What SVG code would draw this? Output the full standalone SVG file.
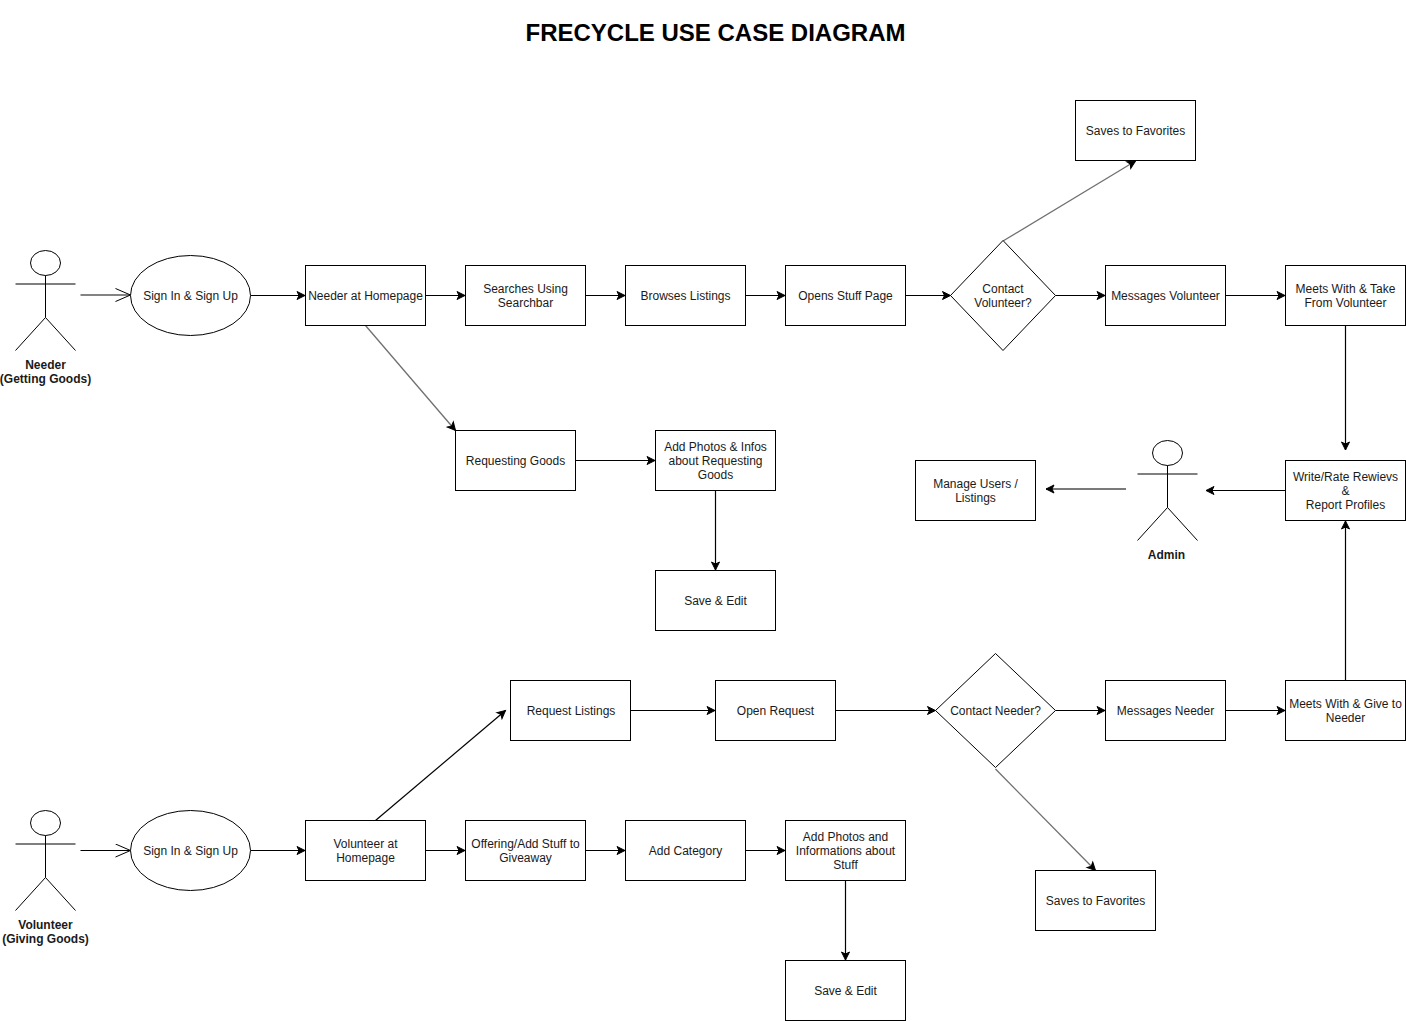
<svg xmlns="http://www.w3.org/2000/svg" width="1406" height="1021" viewBox="0 0 1406 1021">
<style>
.s{fill:#fff;stroke:#000;stroke-width:1}
.a{fill:none;stroke:#000;stroke-width:1}
text{font-family:"Liberation Sans",Arial,sans-serif;font-size:12px;fill:#1a1a1a;text-anchor:middle}
.b{font-weight:bold;fill:#1a1a1a}
.t{font-size:24px;font-weight:bold;fill:#000}
.c{fill:none;stroke:#000;stroke-width:1.2;marker-end:url(#m)}
.g{stroke:#707070;stroke-width:1.3}
.h{stroke:#7a7a7a;stroke-width:2}
.o{fill:none;stroke:#5a5a5a;stroke-width:1.6;marker-end:url(#o)}
.o2{fill:none;stroke:#000;stroke-width:1;marker-end:url(#o)}
</style>
<defs>
<marker id="m" markerUnits="userSpaceOnUse" markerWidth="12" markerHeight="12" refX="8.500" refY="4.500" orient="auto" overflow="visible"><path d="M0.500 0.500L8.500 4.500L0.500 8.500L2.500 4.500Z" fill="#000" stroke="#000"/></marker>
<marker id="o" markerUnits="userSpaceOnUse" markerWidth="20" markerHeight="16" refX="15.500" refY="7" orient="auto"><path d="M0.500 0.500L15.500 7L0.500 13.500" fill="none" stroke="#000"/></marker>
<g id="actor"><ellipse class="s" cx="30" cy="12.500" rx="15" ry="12.500"/><path class="a" d="M30 25V67M0 33.500H60M30 67L0 100M30 67L60 100"/></g>
</defs>
<text class="t" x="715.500" y="41">FRECYCLE USE CASE DIAGRAM</text>
<g id="connectors">
<path class="o" d="M80.500 295H130.500"/>
<path class="c" d="M250.500 295.500H305"/>
<path class="c" d="M425.500 295.500H465"/>
<path class="c" d="M585.500 295.500H625"/>
<path class="c" d="M745.500 295.500H785"/>
<path class="c" d="M905.500 295.500H950.500"/>
<path class="c" d="M1055.500 295.500H1105"/>
<path class="c" d="M1225.500 295.500H1285"/>
<path class="c" d="M1345.500 325.500V450"/>
<path class="c" d="M1285.500 490.500H1206"/>
<path class="c h" d="M1126 489H1046"/>
<path class="c g" d="M1003 241L1135.500 161"/>
<path class="c g" d="M365.500 325.500L455.500 430.500"/>
<path class="c" d="M575.500 460.500H655"/>
<path class="c" d="M715.500 490.500V570"/>
<path class="o2" d="M80.500 850.500H130.500"/>
<path class="c" d="M250.500 850.500H305"/>
<path class="c" d="M425.500 850.500H465"/>
<path class="c" d="M585.500 850.500H625"/>
<path class="c" d="M745.500 850.500H785"/>
<path class="c" d="M845.500 880.500V960"/>
<path class="c" d="M375.500 820.500L505.500 710.500"/>
<path class="c" d="M630.500 710.500H715"/>
<path class="c" d="M835.500 710.500H935.500"/>
<path class="c" d="M1055.500 710.500H1105"/>
<path class="c" d="M1225.500 710.500H1285"/>
<path class="c" d="M1345.500 680.500V521"/>
<path class="c g" d="M995.500 769L1095.500 870.500"/>
</g>
<g id="needer"><use href="#actor" x="15.500" y="250.500"/><text class="b" x="45.500" y="369">Needer</text><text class="b" x="45.500" y="383">(Getting Goods)</text></g>
<g id="signin1"><ellipse class="s" cx="190.500" cy="295.500" rx="60" ry="40"/><text x="190.500" y="300">Sign In &amp; Sign Up</text></g>
<g id="needer-home"><rect class="s" x="305.500" y="265.500" width="120" height="60"/><text x="365.500" y="300">Needer at Homepage</text></g>
<g id="searches"><rect class="s" x="465.500" y="265.500" width="120" height="60"/><text x="525.500" y="293">Searches Using</text><text x="525.500" y="307">Searchbar</text></g>
<g id="browses"><rect class="s" x="625.500" y="265.500" width="120" height="60"/><text x="685.500" y="300">Browses Listings</text></g>
<g id="opens"><rect class="s" x="785.500" y="265.500" width="120" height="60"/><text x="845.500" y="300">Opens Stuff Page</text></g>
<g id="contact-volunteer"><path class="s" d="M1003 240.500L1055.500 295.500L1003 350.500L950.500 295.500Z"/><text x="1003" y="293">Contact</text><text x="1003" y="307">Volunteer?</text></g>
<g id="saves1"><rect class="s" x="1075.500" y="100.500" width="120" height="60"/><text x="1135.500" y="135">Saves to Favorites</text></g>
<g id="messages-volunteer"><rect class="s" x="1105.500" y="265.500" width="120" height="60"/><text x="1165.500" y="300">Messages Volunteer</text></g>
<g id="meets-take"><rect class="s" x="1285.500" y="265.500" width="120" height="60"/><text x="1345.500" y="293">Meets With &amp; Take</text><text x="1345.500" y="307">From Volunteer</text></g>
<g id="write-rate"><rect class="s" x="1285.500" y="460.500" width="120" height="60"/><text x="1345.500" y="481">Write/Rate Rewievs</text><text x="1345.500" y="495">&amp;</text><text x="1345.500" y="509">Report Profiles</text></g>
<g id="admin"><use href="#actor" x="1137.500" y="440.500"/><text class="b" x="1166.500" y="559">Admin</text></g>
<g id="manage"><rect class="s" x="915.500" y="460.500" width="120" height="60"/><text x="975.500" y="488">Manage Users /</text><text x="975.500" y="502">Listings</text></g>
<g id="requesting"><rect class="s" x="455.500" y="430.500" width="120" height="60"/><text x="515.500" y="465">Requesting Goods</text></g>
<g id="add-photos-req"><rect class="s" x="655.500" y="430.500" width="120" height="60"/><text x="715.500" y="451">Add Photos &amp; Infos</text><text x="715.500" y="465">about Requesting</text><text x="715.500" y="479">Goods</text></g>
<g id="save-edit1"><rect class="s" x="655.500" y="570.500" width="120" height="60"/><text x="715.500" y="605">Save &amp; Edit</text></g>
<g id="volunteer"><use href="#actor" x="15.500" y="810.500"/><text class="b" x="45.500" y="929">Volunteer</text><text class="b" x="45.500" y="943">(Giving Goods)</text></g>
<g id="signin2"><ellipse class="s" cx="190.500" cy="850.500" rx="60" ry="40"/><text x="190.500" y="855">Sign In &amp; Sign Up</text></g>
<g id="volunteer-home"><rect class="s" x="305.500" y="820.500" width="120" height="60"/><text x="365.500" y="848">Volunteer at</text><text x="365.500" y="862">Homepage</text></g>
<g id="offering"><rect class="s" x="465.500" y="820.500" width="120" height="60"/><text x="525.500" y="848">Offering/Add Stuff to</text><text x="525.500" y="862">Giveaway</text></g>
<g id="category"><rect class="s" x="625.500" y="820.500" width="120" height="60"/><text x="685.500" y="855">Add Category</text></g>
<g id="add-photos-stuff"><rect class="s" x="785.500" y="820.500" width="120" height="60"/><text x="845.500" y="841">Add Photos and</text><text x="845.500" y="855">Informations about</text><text x="845.500" y="869">Stuff</text></g>
<g id="save-edit2"><rect class="s" x="785.500" y="960.500" width="120" height="60"/><text x="845.500" y="995">Save &amp; Edit</text></g>
<g id="request-listings"><rect class="s" x="510.500" y="680.500" width="120" height="60"/><text x="571" y="715">Request Listings</text></g>
<g id="open-request"><rect class="s" x="715.500" y="680.500" width="120" height="60"/><text x="775.500" y="715">Open Request</text></g>
<g id="contact-needer"><path class="s" d="M995.500 653.500L1055.500 710.500L995.500 767.500L935.500 710.500Z"/><text x="995.500" y="715">Contact Needer?</text></g>
<g id="messages-needer"><rect class="s" x="1105.500" y="680.500" width="120" height="60"/><text x="1165.500" y="715">Messages Needer</text></g>
<g id="meets-give"><rect class="s" x="1285.500" y="680.500" width="120" height="60"/><text x="1345.500" y="708">Meets With &amp; Give to</text><text x="1345.500" y="722">Needer</text></g>
<g id="saves2"><rect class="s" x="1035.500" y="870.500" width="120" height="60"/><text x="1095.500" y="905">Saves to Favorites</text></g>
</svg>
